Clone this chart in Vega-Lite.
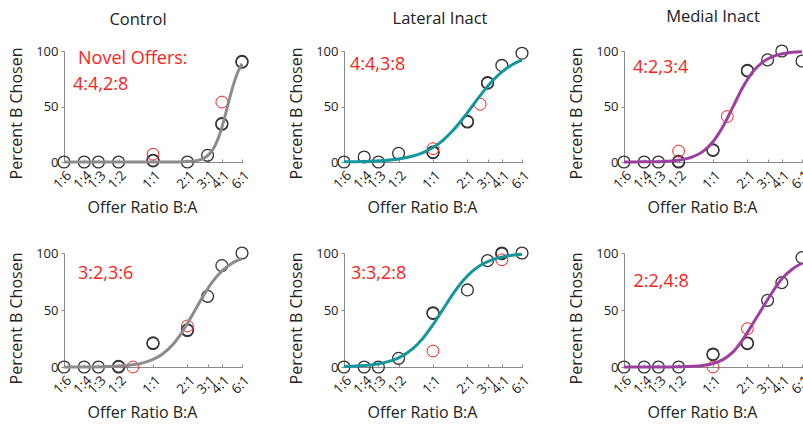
{
"$schema": "https://vega.github.io/schema/vega-lite/v6.json",
"padding": {"top": 8, "left": 8, "right": 0, "bottom": 0},
"background": "white",
"config": {
  "font": "Open Sans",
  "view": {"stroke": null},
  "axis": {"grid": false, "domainColor": "#8a8a8a", "tickColor": "#8a8a8a", "labelColor": "#222", "titleColor": "#222", "labelFontSize": 13, "titleFontSize": 16, "titleFontWeight": "normal", "labelFont": "Open Sans", "titleFont": "Open Sans"},
  "axisX": {"labelFontSize": 13.5, "labelOverlap": false, "labelFlush": false},
  "title": {"fontSize": 16.5, "fontWeight": "normal", "font": "Open Sans", "color": "#222", "frame": "group", "anchor": "middle", "baseline": "alphabetic", "offset": 17}
},
"datasets": {
  "pts": [
    {"p":"C1","k":"b","x":-1.792,"y":0},{"p":"C1","k":"b","x":-1.386,"y":0},{"p":"C1","k":"b","x":-1.099,"y":0},{"p":"C1","k":"b","x":-0.693,"y":0},{"p":"C1","k":"b","x":0,"y":1},{"p":"C1","k":"b","x":0,"y":1.6},{"p":"C1","k":"b","x":0.693,"y":0},{"p":"C1","k":"b","x":1.099,"y":6},{"p":"C1","k":"b","x":1.386,"y":34},{"p":"C1","k":"b","x":1.386,"y":34.6},{"p":"C1","k":"b","x":1.792,"y":90},{"p":"C1","k":"b","x":1.792,"y":90.6},
    {"p":"C1","k":"r","x":0,"y":7},{"p":"C1","k":"r","x":1.386,"y":54},
    {"p":"L1","k":"b","x":-1.792,"y":0},{"p":"L1","k":"b","x":-1.386,"y":4.5},{"p":"L1","k":"b","x":-1.099,"y":0},{"p":"L1","k":"b","x":-0.693,"y":7.8},{"p":"L1","k":"b","x":0,"y":8.4},{"p":"L1","k":"b","x":0,"y":9},{"p":"L1","k":"b","x":0.693,"y":36},{"p":"L1","k":"b","x":0.693,"y":36.6},{"p":"L1","k":"b","x":1.099,"y":71},{"p":"L1","k":"b","x":1.099,"y":71.6},{"p":"L1","k":"b","x":1.386,"y":87},{"p":"L1","k":"b","x":1.792,"y":98},
    {"p":"L1","k":"r","x":0,"y":12},{"p":"L1","k":"r","x":0.95,"y":52},
    {"p":"M1","k":"b","x":-1.792,"y":0},{"p":"M1","k":"b","x":-1.386,"y":0},{"p":"M1","k":"b","x":-1.099,"y":0},{"p":"M1","k":"b","x":-0.693,"y":0},{"p":"M1","k":"b","x":-0.693,"y":0.6},{"p":"M1","k":"b","x":0,"y":10.4},{"p":"M1","k":"b","x":0,"y":11},{"p":"M1","k":"b","x":0.693,"y":82},{"p":"M1","k":"b","x":0.693,"y":82.6},{"p":"M1","k":"b","x":1.099,"y":92},{"p":"M1","k":"b","x":1.386,"y":100},{"p":"M1","k":"b","x":1.792,"y":91},
    {"p":"M1","k":"r","x":-0.693,"y":9.8},{"p":"M1","k":"r","x":0.288,"y":41},
    {"p":"C2","k":"b","x":-1.792,"y":0},{"p":"C2","k":"b","x":-1.386,"y":0},{"p":"C2","k":"b","x":-1.099,"y":0},{"p":"C2","k":"b","x":-0.693,"y":0},{"p":"C2","k":"b","x":-0.693,"y":0.6},{"p":"C2","k":"b","x":0,"y":20.6},{"p":"C2","k":"b","x":0,"y":21.2},{"p":"C2","k":"b","x":0.693,"y":32},{"p":"C2","k":"b","x":0.693,"y":32.6},{"p":"C2","k":"b","x":1.099,"y":62},{"p":"C2","k":"b","x":1.386,"y":89},{"p":"C2","k":"b","x":1.792,"y":100},
    {"p":"C2","k":"r","x":-0.405,"y":0},{"p":"C2","k":"r","x":0.693,"y":36},
    {"p":"L2","k":"b","x":-1.792,"y":0},{"p":"L2","k":"b","x":-1.386,"y":0},{"p":"L2","k":"b","x":-1.099,"y":0},{"p":"L2","k":"b","x":-0.693,"y":7.6},{"p":"L2","k":"b","x":0,"y":47},{"p":"L2","k":"b","x":0,"y":47.6},{"p":"L2","k":"b","x":0.693,"y":67.6},{"p":"L2","k":"b","x":1.099,"y":93.3},{"p":"L2","k":"b","x":1.386,"y":99.4},{"p":"L2","k":"b","x":1.386,"y":100},{"p":"L2","k":"b","x":1.792,"y":100},
    {"p":"L2","k":"r","x":0,"y":14},{"p":"L2","k":"r","x":1.386,"y":94},
    {"p":"M2","k":"b","x":-1.792,"y":0},{"p":"M2","k":"b","x":-1.386,"y":0},{"p":"M2","k":"b","x":-1.099,"y":0},{"p":"M2","k":"b","x":-0.693,"y":0},{"p":"M2","k":"b","x":0,"y":10.8},{"p":"M2","k":"b","x":0,"y":11.4},{"p":"M2","k":"b","x":0.693,"y":20.5},{"p":"M2","k":"b","x":0.693,"y":21.1},{"p":"M2","k":"b","x":1.099,"y":58.5},{"p":"M2","k":"b","x":1.386,"y":74},{"p":"M2","k":"b","x":1.792,"y":96},
    {"p":"M2","k":"r","x":0,"y":0},{"p":"M2","k":"r","x":0.693,"y":33.6}
  ],
  "fit": [
    {"p":"C1","x":-1.792,"y":0},{"p":"C1","x":-1,"y":0},{"p":"C1","x":0,"y":0.01},{"p":"C1","x":0.5,"y":0.1},{"p":"C1","x":0.693,"y":0.35},{"p":"C1","x":0.9,"y":1.5},{"p":"C1","x":1.0,"y":2.9},{"p":"C1","x":1.1,"y":5.7},{"p":"C1","x":1.2,"y":10.9},{"p":"C1","x":1.3,"y":19.8},{"p":"C1","x":1.4,"y":33.2},{"p":"C1","x":1.5,"y":50},{"p":"C1","x":1.6,"y":66.8},{"p":"C1","x":1.7,"y":80.2},{"p":"C1","x":1.792,"y":88.5},
    {"p":"L1","x":-1.792,"y":0.2},{"p":"L1","x":-1.4,"y":0.5},{"p":"L1","x":-1.0,"y":1.3},{"p":"L1","x":-0.693,"y":2.7},{"p":"L1","x":-0.4,"y":5.4},{"p":"L1","x":-0.2,"y":8.5},{"p":"L1","x":0,"y":13},{"p":"L1","x":0.2,"y":19.5},{"p":"L1","x":0.4,"y":28.3},{"p":"L1","x":0.6,"y":39},{"p":"L1","x":0.8,"y":50.9},{"p":"L1","x":1.0,"y":62.7},{"p":"L1","x":1.2,"y":73.2},{"p":"L1","x":1.4,"y":81.6},{"p":"L1","x":1.6,"y":87.8},{"p":"L1","x":1.792,"y":92},
    {"p":"M1","x":-1.792,"y":0.03},{"p":"M1","x":-1.4,"y":0.13},{"p":"M1","x":-1.0,"y":0.55},{"p":"M1","x":-0.693,"y":1.7},{"p":"M1","x":-0.4,"y":4.8},{"p":"M1","x":-0.2,"y":9.6},{"p":"M1","x":0,"y":18.2},{"p":"M1","x":0.2,"y":31.9},{"p":"M1","x":0.4,"y":49.5},{"p":"M1","x":0.6,"y":67.3},{"p":"M1","x":0.8,"y":81.2},{"p":"M1","x":1.0,"y":90},{"p":"M1","x":1.2,"y":95},{"p":"M1","x":1.4,"y":97.5},{"p":"M1","x":1.6,"y":98.8},{"p":"M1","x":1.792,"y":99.4},
    {"p":"C2","x":-1.792,"y":0.03},{"p":"C2","x":-1.4,"y":0.09},{"p":"C2","x":-1.0,"y":0.31},{"p":"C2","x":-0.693,"y":0.81},{"p":"C2","x":-0.4,"y":1.98},{"p":"C2","x":-0.2,"y":3.66},{"p":"C2","x":0,"y":6.6},{"p":"C2","x":0.2,"y":11.65},{"p":"C2","x":0.4,"y":19.75},{"p":"C2","x":0.6,"y":31.5},{"p":"C2","x":0.8,"y":46.2},{"p":"C2","x":1.0,"y":61.5},{"p":"C2","x":1.2,"y":74.9},{"p":"C2","x":1.4,"y":84.8},{"p":"C2","x":1.6,"y":91.2},{"p":"C2","x":1.792,"y":95},
    {"p":"L2","x":-1.792,"y":0.42},{"p":"L2","x":-1.4,"y":1.22},{"p":"L2","x":-1.0,"y":3.6},{"p":"L2","x":-0.693,"y":8},{"p":"L2","x":-0.4,"y":16.3},{"p":"L2","x":-0.2,"y":25.3},{"p":"L2","x":0,"y":37.1},{"p":"L2","x":0.2,"y":50.5},{"p":"L2","x":0.4,"y":64},{"p":"L2","x":0.6,"y":75.5},{"p":"L2","x":0.8,"y":84.3},{"p":"L2","x":1.0,"y":90.3},{"p":"L2","x":1.2,"y":94.2},{"p":"L2","x":1.4,"y":96.6},{"p":"L2","x":1.6,"y":98},{"p":"L2","x":1.792,"y":98.8},
    {"p":"M2","x":-1.792,"y":0},{"p":"M2","x":-1.0,"y":0},{"p":"M2","x":-0.693,"y":0.2},{"p":"M2","x":-0.4,"y":0.6},{"p":"M2","x":-0.2,"y":1.4},{"p":"M2","x":0,"y":3},{"p":"M2","x":0.2,"y":6.5},{"p":"M2","x":0.4,"y":13},{"p":"M2","x":0.6,"y":24},{"p":"M2","x":0.8,"y":38},{"p":"M2","x":1.0,"y":52},{"p":"M2","x":1.2,"y":66},{"p":"M2","x":1.4,"y":78},{"p":"M2","x":1.6,"y":86},{"p":"M2","x":1.792,"y":91}
  ],
  "notes": [
    {"p":"C1","n":1,"t":"Novel Offers:"},{"p":"C1","n":2,"t":"4:4,2:8"},
    {"p":"L1","n":1,"t":"4:4,3:8"},
    {"p":"M1","n":1,"t":"4:2,3:4"},
    {"p":"C2","n":1,"t":"3:2,3:6"},
    {"p":"L2","n":1,"t":"3:3,2:8"},
    {"p":"M2","n":1,"t":"2:2,4:8"}
  ]
},
"columns": 3,
"bounds": "flush",
"spacing": {"row": 91, "column": 102},
"concat": [
  {
    "width": 178, "height": 111,
    "title": {"text": "Control", "dx": -15},
    "layer": [
      {
        "encoding": {
          "x": {"field": "x", "type": "quantitative", "scale": {"domain": [-1.792, 1.792], "nice": false, "zero": false}, "axis": {"title": "Offer Ratio B:A", "titleX": 78, "titlePadding": 8, "values": [-1.792,-1.386,-1.099,-0.693,0,0.693,1.099,1.386,1.792], "labelExpr": "datum.value < -1.5 ? '1:6' : datum.value < -1.2 ? '1:4' : datum.value < -0.9 ? '1:3' : datum.value < -0.3 ? '1:2' : datum.value < 0.3 ? '1:1' : datum.value < 0.9 ? '2:1' : datum.value < 1.2 ? '3:1' : datum.value < 1.5 ? '4:1' : '6:1'", "labelAngle": -45, "labelAlign": "right", "labelBaseline": "middle", "labelPadding": 14, "labelOffset": 5, "tickSize": -3, "labelFlush": false, "labelOverlap": false}},
          "y": {"field": "y", "type": "quantitative", "scale": {"domain": [0, 100], "nice": false}, "axis": {"title": "Percent B Chosen", "titleY": 62, "titlePadding": 11, "values": [0, 50, 100], "tickSize": 3, "labelPadding": 3}}
        },
        "layer": [
          {"data": {"name": "pts"}, "transform": [{"filter": "datum.p === 'C1' && datum.k === 'b'"}], "mark": {"type": "point", "shape": "circle", "size": 140, "color": "#333333", "strokeWidth": 1.3, "filled": false, "opacity": 1}},
          {"data": {"name": "pts"}, "transform": [{"filter": "datum.p === 'C1' && datum.k === 'r'"}], "mark": {"type": "point", "shape": "circle", "size": 140, "color": "#ff2020", "strokeWidth": 1, "filled": false, "opacity": 1}},
          {"data": {"name": "fit"}, "transform": [{"filter": "datum.p === 'C1'"}], "mark": {"type": "line", "color": "#8c8c8c", "strokeWidth": 3, "interpolate": "monotone"}, "encoding": {}}
        ]
      },
      {"data": {"name": "notes"}, "transform": [{"filter": "datum.p === 'C1' && datum.n === 1"}], "mark": {"type": "text", "color": "#ff2020", "fontSize": 18, "align": "left", "baseline": "middle"},
       "encoding": {
        "x": {"datum": -1.51, "type": "quantitative", "scale": {"domain": [-1.792, 1.792], "nice": false, "zero": false}, "axis": {"title": "Offer Ratio B:A", "titleX": 78, "titlePadding": 8, "values": [-1.792,-1.386,-1.099,-0.693,0,0.693,1.099,1.386,1.792], "labelExpr": "datum.value < -1.5 ? '1:6' : datum.value < -1.2 ? '1:4' : datum.value < -0.9 ? '1:3' : datum.value < -0.3 ? '1:2' : datum.value < 0.3 ? '1:1' : datum.value < 0.9 ? '2:1' : datum.value < 1.2 ? '3:1' : datum.value < 1.5 ? '4:1' : '6:1'", "labelAngle": -45, "labelAlign": "right", "labelBaseline": "middle", "labelPadding": 14, "labelOffset": 5, "tickSize": -3, "labelFlush": false, "labelOverlap": false}},
        "y": {"datum": 93, "type": "quantitative", "scale": {"domain": [0, 100], "nice": false}, "axis": {"title": "Percent B Chosen", "titleY": 62, "titlePadding": 11, "values": [0, 50, 100], "tickSize": 3, "labelPadding": 3}},
        "text": {"field": "t"}}},
      {"data": {"name": "notes"}, "transform": [{"filter": "datum.p === 'C1' && datum.n === 2"}], "mark": {"type": "text", "color": "#ff2020", "fontSize": 18, "align": "left", "baseline": "middle"},
       "encoding": {
        "x": {"datum": -1.61, "type": "quantitative", "scale": {"domain": [-1.792, 1.792], "nice": false, "zero": false}, "axis": {"title": "Offer Ratio B:A", "titleX": 78, "titlePadding": 8, "values": [-1.792,-1.386,-1.099,-0.693,0,0.693,1.099,1.386,1.792], "labelExpr": "datum.value < -1.5 ? '1:6' : datum.value < -1.2 ? '1:4' : datum.value < -0.9 ? '1:3' : datum.value < -0.3 ? '1:2' : datum.value < 0.3 ? '1:1' : datum.value < 0.9 ? '2:1' : datum.value < 1.2 ? '3:1' : datum.value < 1.5 ? '4:1' : '6:1'", "labelAngle": -45, "labelAlign": "right", "labelBaseline": "middle", "labelPadding": 14, "labelOffset": 5, "tickSize": -3, "labelFlush": false, "labelOverlap": false}},
        "y": {"datum": 69, "type": "quantitative", "scale": {"domain": [0, 100], "nice": false}, "axis": {"title": "Percent B Chosen", "titleY": 62, "titlePadding": 11, "values": [0, 50, 100], "tickSize": 3, "labelPadding": 3}},
        "text": {"field": "t"}}}
    ]
  },
  {
    "width": 178, "height": 111,
    "title": {"text": "Lateral Inact", "dx": 7},
    "layer": [
      {
        "encoding": {
          "x": {"field": "x", "type": "quantitative", "scale": {"domain": [-1.792, 1.792], "nice": false, "zero": false}, "axis": {"title": "Offer Ratio B:A", "titleX": 78, "titlePadding": 8, "values": [-1.792,-1.386,-1.099,-0.693,0,0.693,1.099,1.386,1.792], "labelExpr": "datum.value < -1.5 ? '1:6' : datum.value < -1.2 ? '1:4' : datum.value < -0.9 ? '1:3' : datum.value < -0.3 ? '1:2' : datum.value < 0.3 ? '1:1' : datum.value < 0.9 ? '2:1' : datum.value < 1.2 ? '3:1' : datum.value < 1.5 ? '4:1' : '6:1'", "labelAngle": -45, "labelAlign": "right", "labelBaseline": "middle", "labelPadding": 14, "labelOffset": 5, "tickSize": -3, "labelFlush": false, "labelOverlap": false}},
          "y": {"field": "y", "type": "quantitative", "scale": {"domain": [0, 100], "nice": false}, "axis": {"title": "Percent B Chosen", "titleY": 62, "titlePadding": 11, "values": [0, 50, 100], "tickSize": 3, "labelPadding": 3}}
        },
        "layer": [
          {"data": {"name": "pts"}, "transform": [{"filter": "datum.p === 'L1' && datum.k === 'b'"}], "mark": {"type": "point", "shape": "circle", "size": 140, "color": "#333333", "strokeWidth": 1.3, "filled": false, "opacity": 1}},
          {"data": {"name": "pts"}, "transform": [{"filter": "datum.p === 'L1' && datum.k === 'r'"}], "mark": {"type": "point", "shape": "circle", "size": 140, "color": "#ff2020", "strokeWidth": 1, "filled": false, "opacity": 1}},
          {"data": {"name": "fit"}, "transform": [{"filter": "datum.p === 'L1'"}], "mark": {"type": "line", "color": "#13979e", "strokeWidth": 3, "interpolate": "monotone"}, "encoding": {}}
        ]
      },
      {"data": {"name": "notes"}, "transform": [{"filter": "datum.p === 'L1'"}], "mark": {"type": "text", "color": "#ff2020", "fontSize": 18, "align": "left", "baseline": "middle"},
       "encoding": {
        "x": {"datum": -1.67, "type": "quantitative", "scale": {"domain": [-1.792, 1.792], "nice": false, "zero": false}, "axis": {"title": "Offer Ratio B:A", "titleX": 78, "titlePadding": 8, "values": [-1.792,-1.386,-1.099,-0.693,0,0.693,1.099,1.386,1.792], "labelExpr": "datum.value < -1.5 ? '1:6' : datum.value < -1.2 ? '1:4' : datum.value < -0.9 ? '1:3' : datum.value < -0.3 ? '1:2' : datum.value < 0.3 ? '1:1' : datum.value < 0.9 ? '2:1' : datum.value < 1.2 ? '3:1' : datum.value < 1.5 ? '4:1' : '6:1'", "labelAngle": -45, "labelAlign": "right", "labelBaseline": "middle", "labelPadding": 14, "labelOffset": 5, "tickSize": -3, "labelFlush": false, "labelOverlap": false}},
        "y": {"datum": 87, "type": "quantitative", "scale": {"domain": [0, 100], "nice": false}, "axis": {"title": "Percent B Chosen", "titleY": 62, "titlePadding": 11, "values": [0, 50, 100], "tickSize": 3, "labelPadding": 3}},
        "text": {"field": "t"}}}
    ]
  },
  {
    "width": 178, "height": 111,
    "title": {"text": "Medial Inact"},
    "layer": [
      {
        "encoding": {
          "x": {"field": "x", "type": "quantitative", "scale": {"domain": [-1.792, 1.792], "nice": false, "zero": false}, "axis": {"title": "Offer Ratio B:A", "titleX": 78, "titlePadding": 8, "values": [-1.792,-1.386,-1.099,-0.693,0,0.693,1.099,1.386,1.792], "labelExpr": "datum.value < -1.5 ? '1:6' : datum.value < -1.2 ? '1:4' : datum.value < -0.9 ? '1:3' : datum.value < -0.3 ? '1:2' : datum.value < 0.3 ? '1:1' : datum.value < 0.9 ? '2:1' : datum.value < 1.2 ? '3:1' : datum.value < 1.5 ? '4:1' : '6:1'", "labelAngle": -45, "labelAlign": "right", "labelBaseline": "middle", "labelPadding": 14, "labelOffset": 5, "tickSize": -3, "labelFlush": false, "labelOverlap": false}},
          "y": {"field": "y", "type": "quantitative", "scale": {"domain": [0, 100], "nice": false}, "axis": {"title": "Percent B Chosen", "titleY": 62, "titlePadding": 11, "values": [0, 50, 100], "tickSize": 3, "labelPadding": 3}}
        },
        "layer": [
          {"data": {"name": "pts"}, "transform": [{"filter": "datum.p === 'M1' && datum.k === 'b'"}], "mark": {"type": "point", "shape": "circle", "size": 140, "color": "#333333", "strokeWidth": 1.3, "filled": false, "opacity": 1}},
          {"data": {"name": "pts"}, "transform": [{"filter": "datum.p === 'M1' && datum.k === 'r'"}], "mark": {"type": "point", "shape": "circle", "size": 140, "color": "#ff2020", "strokeWidth": 1, "filled": false, "opacity": 1}},
          {"data": {"name": "fit"}, "transform": [{"filter": "datum.p === 'M1'"}], "mark": {"type": "line", "color": "#9d3fa0", "strokeWidth": 3, "interpolate": "monotone"}, "encoding": {}}
        ]
      },
      {"data": {"name": "notes"}, "transform": [{"filter": "datum.p === 'M1'"}], "mark": {"type": "text", "color": "#ff2020", "fontSize": 18, "align": "left", "baseline": "middle"},
       "encoding": {
        "x": {"datum": -1.61, "type": "quantitative", "scale": {"domain": [-1.792, 1.792], "nice": false, "zero": false}, "axis": {"title": "Offer Ratio B:A", "titleX": 78, "titlePadding": 8, "values": [-1.792,-1.386,-1.099,-0.693,0,0.693,1.099,1.386,1.792], "labelExpr": "datum.value < -1.5 ? '1:6' : datum.value < -1.2 ? '1:4' : datum.value < -0.9 ? '1:3' : datum.value < -0.3 ? '1:2' : datum.value < 0.3 ? '1:1' : datum.value < 0.9 ? '2:1' : datum.value < 1.2 ? '3:1' : datum.value < 1.5 ? '4:1' : '6:1'", "labelAngle": -45, "labelAlign": "right", "labelBaseline": "middle", "labelPadding": 14, "labelOffset": 5, "tickSize": -3, "labelFlush": false, "labelOverlap": false}},
        "y": {"datum": 85, "type": "quantitative", "scale": {"domain": [0, 100], "nice": false}, "axis": {"title": "Percent B Chosen", "titleY": 62, "titlePadding": 11, "values": [0, 50, 100], "tickSize": 3, "labelPadding": 3}},
        "text": {"field": "t"}}}
    ]
  },
  {
    "width": 178, "height": 114,
    "layer": [
      {
        "encoding": {
          "x": {"field": "x", "type": "quantitative", "scale": {"domain": [-1.792, 1.792], "nice": false, "zero": false}, "axis": {"title": "Offer Ratio B:A", "titleX": 78, "titlePadding": 8, "values": [-1.792,-1.386,-1.099,-0.693,0,0.693,1.099,1.386,1.792], "labelExpr": "datum.value < -1.5 ? '1:6' : datum.value < -1.2 ? '1:4' : datum.value < -0.9 ? '1:3' : datum.value < -0.3 ? '1:2' : datum.value < 0.3 ? '1:1' : datum.value < 0.9 ? '2:1' : datum.value < 1.2 ? '3:1' : datum.value < 1.5 ? '4:1' : '6:1'", "labelAngle": -45, "labelAlign": "right", "labelBaseline": "middle", "labelPadding": 14, "labelOffset": 5, "tickSize": -3, "labelFlush": false, "labelOverlap": false}},
          "y": {"field": "y", "type": "quantitative", "scale": {"domain": [0, 100], "nice": false}, "axis": {"title": "Percent B Chosen", "titleY": 65, "titlePadding": 11, "values": [0, 50, 100], "tickSize": 3, "labelPadding": 3}}
        },
        "layer": [
          {"data": {"name": "pts"}, "transform": [{"filter": "datum.p === 'C2' && datum.k === 'b'"}], "mark": {"type": "point", "shape": "circle", "size": 140, "color": "#333333", "strokeWidth": 1.3, "filled": false, "opacity": 1}},
          {"data": {"name": "pts"}, "transform": [{"filter": "datum.p === 'C2' && datum.k === 'r'"}], "mark": {"type": "point", "shape": "circle", "size": 140, "color": "#ff2020", "strokeWidth": 1, "filled": false, "opacity": 1}},
          {"data": {"name": "fit"}, "transform": [{"filter": "datum.p === 'C2'"}], "mark": {"type": "line", "color": "#8c8c8c", "strokeWidth": 3, "interpolate": "monotone"}, "encoding": {}}
        ]
      },
      {"data": {"name": "notes"}, "transform": [{"filter": "datum.p === 'C2'"}], "mark": {"type": "text", "color": "#ff2020", "fontSize": 18, "align": "left", "baseline": "middle"},
       "encoding": {
        "x": {"datum": -1.51, "type": "quantitative", "scale": {"domain": [-1.792, 1.792], "nice": false, "zero": false}, "axis": {"title": "Offer Ratio B:A", "titleX": 78, "titlePadding": 8, "values": [-1.792,-1.386,-1.099,-0.693,0,0.693,1.099,1.386,1.792], "labelExpr": "datum.value < -1.5 ? '1:6' : datum.value < -1.2 ? '1:4' : datum.value < -0.9 ? '1:3' : datum.value < -0.3 ? '1:2' : datum.value < 0.3 ? '1:1' : datum.value < 0.9 ? '2:1' : datum.value < 1.2 ? '3:1' : datum.value < 1.5 ? '4:1' : '6:1'", "labelAngle": -45, "labelAlign": "right", "labelBaseline": "middle", "labelPadding": 14, "labelOffset": 5, "tickSize": -3, "labelFlush": false, "labelOverlap": false}},
        "y": {"datum": 81.5, "type": "quantitative", "scale": {"domain": [0, 100], "nice": false}, "axis": {"title": "Percent B Chosen", "titleY": 65, "titlePadding": 11, "values": [0, 50, 100], "tickSize": 3, "labelPadding": 3}},
        "text": {"field": "t"}}}
    ]
  },
  {
    "width": 178, "height": 114,
    "layer": [
      {
        "encoding": {
          "x": {"field": "x", "type": "quantitative", "scale": {"domain": [-1.792, 1.792], "nice": false, "zero": false}, "axis": {"title": "Offer Ratio B:A", "titleX": 78, "titlePadding": 8, "values": [-1.792,-1.386,-1.099,-0.693,0,0.693,1.099,1.386,1.792], "labelExpr": "datum.value < -1.5 ? '1:6' : datum.value < -1.2 ? '1:4' : datum.value < -0.9 ? '1:3' : datum.value < -0.3 ? '1:2' : datum.value < 0.3 ? '1:1' : datum.value < 0.9 ? '2:1' : datum.value < 1.2 ? '3:1' : datum.value < 1.5 ? '4:1' : '6:1'", "labelAngle": -45, "labelAlign": "right", "labelBaseline": "middle", "labelPadding": 14, "labelOffset": 5, "tickSize": -3, "labelFlush": false, "labelOverlap": false}},
          "y": {"field": "y", "type": "quantitative", "scale": {"domain": [0, 100], "nice": false}, "axis": {"title": "Percent B Chosen", "titleY": 65, "titlePadding": 11, "values": [0, 50, 100], "tickSize": 3, "labelPadding": 3}}
        },
        "layer": [
          {"data": {"name": "pts"}, "transform": [{"filter": "datum.p === 'L2' && datum.k === 'b'"}], "mark": {"type": "point", "shape": "circle", "size": 140, "color": "#333333", "strokeWidth": 1.3, "filled": false, "opacity": 1}},
          {"data": {"name": "pts"}, "transform": [{"filter": "datum.p === 'L2' && datum.k === 'r'"}], "mark": {"type": "point", "shape": "circle", "size": 140, "color": "#ff2020", "strokeWidth": 1, "filled": false, "opacity": 1}},
          {"data": {"name": "fit"}, "transform": [{"filter": "datum.p === 'L2'"}], "mark": {"type": "line", "color": "#13979e", "strokeWidth": 3, "interpolate": "monotone"}, "encoding": {}}
        ]
      },
      {"data": {"name": "notes"}, "transform": [{"filter": "datum.p === 'L2'"}], "mark": {"type": "text", "color": "#ff2020", "fontSize": 18, "align": "left", "baseline": "middle"},
       "encoding": {
        "x": {"datum": -1.65, "type": "quantitative", "scale": {"domain": [-1.792, 1.792], "nice": false, "zero": false}, "axis": {"title": "Offer Ratio B:A", "titleX": 78, "titlePadding": 8, "values": [-1.792,-1.386,-1.099,-0.693,0,0.693,1.099,1.386,1.792], "labelExpr": "datum.value < -1.5 ? '1:6' : datum.value < -1.2 ? '1:4' : datum.value < -0.9 ? '1:3' : datum.value < -0.3 ? '1:2' : datum.value < 0.3 ? '1:1' : datum.value < 0.9 ? '2:1' : datum.value < 1.2 ? '3:1' : datum.value < 1.5 ? '4:1' : '6:1'", "labelAngle": -45, "labelAlign": "right", "labelBaseline": "middle", "labelPadding": 14, "labelOffset": 5, "tickSize": -3, "labelFlush": false, "labelOverlap": false}},
        "y": {"datum": 81.5, "type": "quantitative", "scale": {"domain": [0, 100], "nice": false}, "axis": {"title": "Percent B Chosen", "titleY": 65, "titlePadding": 11, "values": [0, 50, 100], "tickSize": 3, "labelPadding": 3}},
        "text": {"field": "t"}}}
    ]
  },
  {
    "width": 178, "height": 114,
    "layer": [
      {
        "encoding": {
          "x": {"field": "x", "type": "quantitative", "scale": {"domain": [-1.792, 1.792], "nice": false, "zero": false}, "axis": {"title": "Offer Ratio B:A", "titleX": 78, "titlePadding": 8, "values": [-1.792,-1.386,-1.099,-0.693,0,0.693,1.099,1.386,1.792], "labelExpr": "datum.value < -1.5 ? '1:6' : datum.value < -1.2 ? '1:4' : datum.value < -0.9 ? '1:3' : datum.value < -0.3 ? '1:2' : datum.value < 0.3 ? '1:1' : datum.value < 0.9 ? '2:1' : datum.value < 1.2 ? '3:1' : datum.value < 1.5 ? '4:1' : '6:1'", "labelAngle": -45, "labelAlign": "right", "labelBaseline": "middle", "labelPadding": 14, "labelOffset": 5, "tickSize": -3, "labelFlush": false, "labelOverlap": false}},
          "y": {"field": "y", "type": "quantitative", "scale": {"domain": [0, 100], "nice": false}, "axis": {"title": "Percent B Chosen", "titleY": 65, "titlePadding": 11, "values": [0, 50, 100], "tickSize": 3, "labelPadding": 3}}
        },
        "layer": [
          {"data": {"name": "pts"}, "transform": [{"filter": "datum.p === 'M2' && datum.k === 'b'"}], "mark": {"type": "point", "shape": "circle", "size": 140, "color": "#333333", "strokeWidth": 1.3, "filled": false, "opacity": 1}},
          {"data": {"name": "pts"}, "transform": [{"filter": "datum.p === 'M2' && datum.k === 'r'"}], "mark": {"type": "point", "shape": "circle", "size": 140, "color": "#ff2020", "strokeWidth": 1, "filled": false, "opacity": 1}},
          {"data": {"name": "fit"}, "transform": [{"filter": "datum.p === 'M2'"}], "mark": {"type": "line", "color": "#9d3fa0", "strokeWidth": 3, "interpolate": "monotone"}, "encoding": {}}
        ]
      },
      {"data": {"name": "notes"}, "transform": [{"filter": "datum.p === 'M2'"}], "mark": {"type": "text", "color": "#ff2020", "fontSize": 18, "align": "left", "baseline": "middle"},
       "encoding": {
        "x": {"datum": -1.6, "type": "quantitative", "scale": {"domain": [-1.792, 1.792], "nice": false, "zero": false}, "axis": {"title": "Offer Ratio B:A", "titleX": 78, "titlePadding": 8, "values": [-1.792,-1.386,-1.099,-0.693,0,0.693,1.099,1.386,1.792], "labelExpr": "datum.value < -1.5 ? '1:6' : datum.value < -1.2 ? '1:4' : datum.value < -0.9 ? '1:3' : datum.value < -0.3 ? '1:2' : datum.value < 0.3 ? '1:1' : datum.value < 0.9 ? '2:1' : datum.value < 1.2 ? '3:1' : datum.value < 1.5 ? '4:1' : '6:1'", "labelAngle": -45, "labelAlign": "right", "labelBaseline": "middle", "labelPadding": 14, "labelOffset": 5, "tickSize": -3, "labelFlush": false, "labelOverlap": false}},
        "y": {"datum": 75, "type": "quantitative", "scale": {"domain": [0, 100], "nice": false}, "axis": {"title": "Percent B Chosen", "titleY": 65, "titlePadding": 11, "values": [0, 50, 100], "tickSize": 3, "labelPadding": 3}},
        "text": {"field": "t"}}}
    ]
  }
]
}
